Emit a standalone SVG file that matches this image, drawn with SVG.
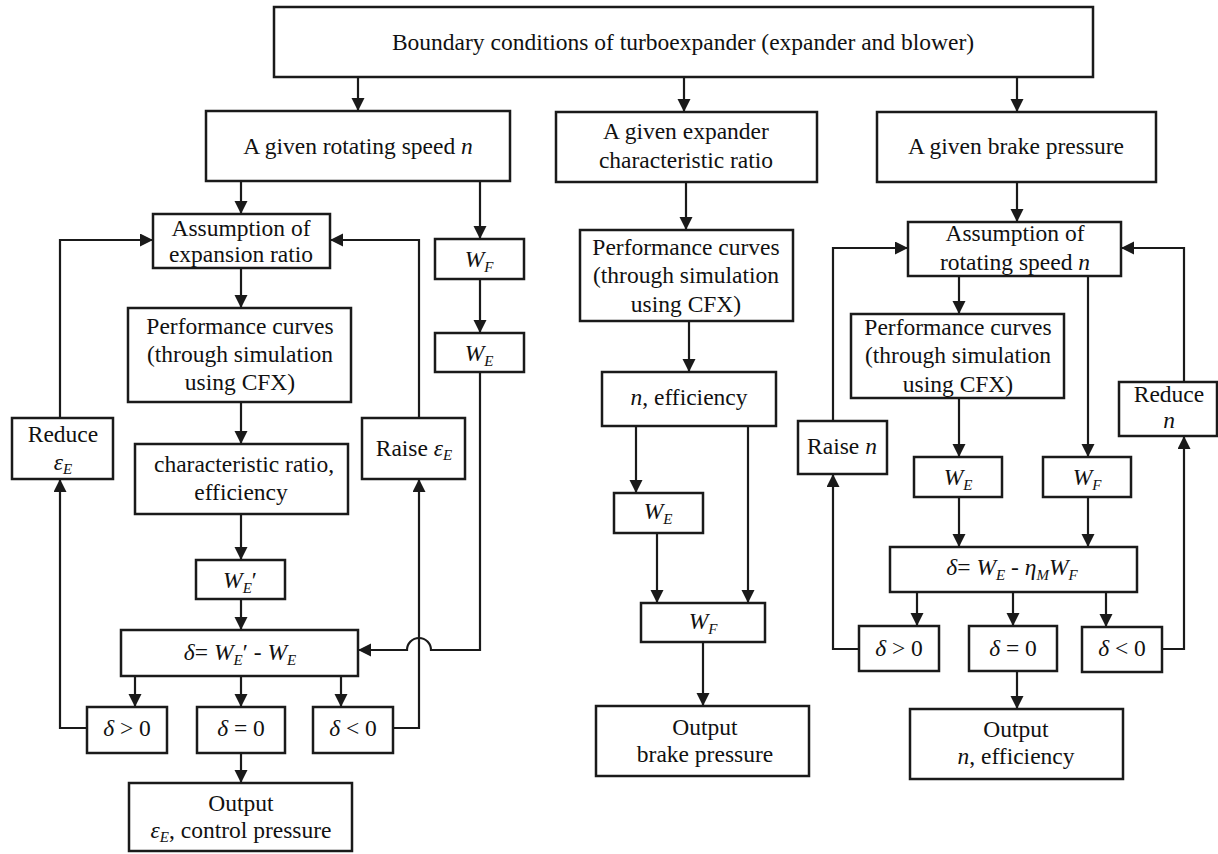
<svg xmlns="http://www.w3.org/2000/svg" width="1218" height="854" viewBox="0 0 1218 854">
<style>
.b{fill:#fff;stroke:#1a1a1a;stroke-width:2.5}
.c{fill:none;stroke:#1a1a1a;stroke-width:2.2}
text{font-family:'Liberation Serif',serif;font-size:23.5px;fill:#111;text-anchor:middle}
.i{font-style:italic}
.s{font-style:italic;font-size:15px}
</style>
<defs>
<marker id="a" markerUnits="userSpaceOnUse" markerWidth="14" markerHeight="14" refX="13" refY="6.5" orient="auto">
<path d="M0,0 L13,6.5 L0,13 z" fill="#1a1a1a"/>
</marker>
</defs>
<rect width="1218" height="854" fill="#fff"/>
<g id="connectors">
<path class="c" marker-end="url(#a)" d="M358,77 V111"/>
<path class="c" marker-end="url(#a)" d="M684,77 V112"/>
<path class="c" marker-end="url(#a)" d="M1017,77 V112"/>
<path class="c" marker-end="url(#a)" d="M241,181 V214"/>
<path class="c" marker-end="url(#a)" d="M480,181 V239"/>
<path class="c" marker-end="url(#a)" d="M480,279 V333"/>
<path class="c" marker-end="url(#a)" d="M480,372 V650 H431 A12,12 0 0 0 407,650 H358"/>
<path class="c" marker-end="url(#a)" d="M241,268 V308"/>
<path class="c" marker-end="url(#a)" d="M241,402 V444"/>
<path class="c" marker-end="url(#a)" d="M241,514 V560"/>
<path class="c" marker-end="url(#a)" d="M241,599 V630"/>
<path class="c" marker-end="url(#a)" d="M135,676 V707"/>
<path class="c" marker-end="url(#a)" d="M241,676 V707"/>
<path class="c" marker-end="url(#a)" d="M341,676 V707"/>
<path class="c" marker-end="url(#a)" d="M241,753 V783"/>
<path class="c" marker-end="url(#a)" d="M87,728 H60 V479"/>
<path class="c" marker-end="url(#a)" d="M60,418 V240 H153"/>
<path class="c" marker-end="url(#a)" d="M393,728 H419 V479"/>
<path class="c" marker-end="url(#a)" d="M419,418 V240 H330"/>
<path class="c" marker-end="url(#a)" d="M686,182 V230"/>
<path class="c" marker-end="url(#a)" d="M689,321 V372"/>
<path class="c" marker-end="url(#a)" d="M636,426 V493"/>
<path class="c" marker-end="url(#a)" d="M748,426 V603"/>
<path class="c" marker-end="url(#a)" d="M657,533 V603"/>
<path class="c" marker-end="url(#a)" d="M703,642 V706"/>
<path class="c" marker-end="url(#a)" d="M1017,182 V222"/>
<path class="c" marker-end="url(#a)" d="M959,276 V314"/>
<path class="c" marker-end="url(#a)" d="M959,398 V457"/>
<path class="c" marker-end="url(#a)" d="M1088,276 V457"/>
<path class="c" marker-end="url(#a)" d="M959,497 V547"/>
<path class="c" marker-end="url(#a)" d="M1088,497 V547"/>
<path class="c" marker-end="url(#a)" d="M917,592 V626"/>
<path class="c" marker-end="url(#a)" d="M1013,592 V626"/>
<path class="c" marker-end="url(#a)" d="M1106,592 V627"/>
<path class="c" marker-end="url(#a)" d="M1017,671 V709"/>
<path class="c" marker-end="url(#a)" d="M859,649 H833 V474"/>
<path class="c" marker-end="url(#a)" d="M833,421 V248 H908"/>
<path class="c" marker-end="url(#a)" d="M1162,649 H1184 V436"/>
<path class="c" marker-end="url(#a)" d="M1184,382 V248 H1121"/>
</g>
<g id="top"><rect class="b" x="274" y="7" width="819" height="70"/><text x="683" y="50">Boundary conditions of turboexpander (expander and blower)</text></g>
<g id="rot"><rect class="b" x="206" y="111" width="304" height="70"/><text x="358" y="154">A given rotating speed <tspan class="i">n</tspan></text></g>
<g id="exp"><rect class="b" x="556" y="112" width="261" height="70"/><text x="686" y="139">A given expander</text><text x="686" y="168">characteristic ratio</text></g>
<g id="brake"><rect class="b" x="877" y="112" width="279" height="70"/><text x="1016" y="154">A given brake pressure</text></g>
<g id="l_assump"><rect class="b" x="153" y="214" width="177" height="54"/><text x="241" y="236">Assumption of</text><text x="241" y="262">expansion ratio</text></g>
<g id="l_perf"><rect class="b" x="128" y="308" width="223" height="94"/><text x="240" y="334">Performance curves</text><text x="240" y="362">(through simulation</text><text x="240" y="390">using CFX)</text></g>
<g id="l_char"><rect class="b" x="135" y="444" width="213" height="70"/><text x="244" y="472">characteristic ratio,</text><text x="241" y="500">efficiency</text></g>
<g id="l_we1"><rect class="b" x="196" y="560" width="89" height="39"/><text x="240" y="588"><tspan class="i">W</tspan><tspan class="s" dy="5">E</tspan><tspan dy="-5">′</tspan></text></g>
<g id="l_delta"><rect class="b" x="121" y="630" width="237" height="46"/><text x="240" y="660"><tspan class="i">δ</tspan>= <tspan class="i">W</tspan><tspan class="s" dy="5">E</tspan><tspan dy="-5">′ - </tspan><tspan class="i">W</tspan><tspan class="s" dy="5">E</tspan></text></g>
<g id="l_gt"><rect class="b" x="87" y="707" width="80" height="46"/><text x="127" y="736"><tspan class="i">δ</tspan> &gt; 0</text></g>
<g id="l_eq"><rect class="b" x="197" y="707" width="88" height="46"/><text x="241" y="736"><tspan class="i">δ</tspan> = 0</text></g>
<g id="l_lt"><rect class="b" x="313" y="707" width="80" height="46"/><text x="353" y="736"><tspan class="i">δ</tspan> &lt; 0</text></g>
<g id="l_out"><rect class="b" x="129" y="783" width="223" height="68"/><text x="241" y="811">Output</text><text x="241" y="838"><tspan class="i">ε</tspan><tspan class="s" dy="4">E</tspan><tspan dy="-4">, control pressure</tspan></text></g>
<g id="l_reduce"><rect class="b" x="12" y="418" width="101" height="61"/><text x="63" y="442">Reduce</text><text x="63" y="470"><tspan class="i">ε</tspan><tspan class="s" dy="4">E</tspan></text></g>
<g id="l_raise"><rect class="b" x="362" y="418" width="103" height="61"/><text x="414" y="456">Raise <tspan class="i">ε</tspan><tspan class="s" dy="4">E</tspan></text></g>
<g id="l_wf"><rect class="b" x="435" y="239" width="89" height="40"/><text x="479" y="267"><tspan class="i">W</tspan><tspan class="s" dy="5">F</tspan></text></g>
<g id="l_we"><rect class="b" x="435" y="333" width="89" height="39"/><text x="479" y="361"><tspan class="i">W</tspan><tspan class="s" dy="5">E</tspan></text></g>
<g id="m_perf"><rect class="b" x="580" y="230" width="213" height="91"/><text x="686" y="255">Performance curves</text><text x="686" y="283">(through simulation</text><text x="686" y="312">using CFX)</text></g>
<g id="m_neff"><rect class="b" x="602" y="372" width="174" height="54"/><text x="689" y="405"><tspan class="i">n</tspan>, efficiency</text></g>
<g id="m_we"><rect class="b" x="614" y="493" width="89" height="40"/><text x="658" y="519"><tspan class="i">W</tspan><tspan class="s" dy="5">E</tspan></text></g>
<g id="m_wf"><rect class="b" x="641" y="603" width="124" height="39"/><text x="703" y="629"><tspan class="i">W</tspan><tspan class="s" dy="5">F</tspan></text></g>
<g id="m_out"><rect class="b" x="596" y="706" width="213" height="70"/><text x="705" y="735">Output</text><text x="705" y="762">brake pressure</text></g>
<g id="r_assump"><rect class="b" x="908" y="222" width="213" height="54"/><text x="1015" y="241">Assumption of</text><text x="1015" y="270">rotating speed <tspan class="i">n</tspan></text></g>
<g id="r_perf"><rect class="b" x="851" y="314" width="213" height="84"/><text x="958" y="335">Performance curves</text><text x="958" y="363">(through simulation</text><text x="958" y="392">using CFX)</text></g>
<g id="r_we"><rect class="b" x="914" y="457" width="88" height="40"/><text x="958" y="485"><tspan class="i">W</tspan><tspan class="s" dy="5">E</tspan></text></g>
<g id="r_wf"><rect class="b" x="1043" y="457" width="88" height="40"/><text x="1087" y="485"><tspan class="i">W</tspan><tspan class="s" dy="5">F</tspan></text></g>
<g id="r_delta"><rect class="b" x="890" y="547" width="247" height="45"/><text x="1012" y="575"><tspan class="i">δ</tspan>= <tspan class="i">W</tspan><tspan class="s" dy="5">E</tspan><tspan dy="-5"> - </tspan><tspan class="i">η</tspan><tspan class="s" dy="5">M</tspan><tspan class="i" dy="-5">W</tspan><tspan class="s" dy="5">F</tspan></text></g>
<g id="r_gt"><rect class="b" x="859" y="626" width="80" height="45"/><text x="899" y="656"><tspan class="i">δ</tspan> &gt; 0</text></g>
<g id="r_eq"><rect class="b" x="969" y="626" width="88" height="45"/><text x="1013" y="656"><tspan class="i">δ</tspan> = 0</text></g>
<g id="r_lt"><rect class="b" x="1082" y="627" width="80" height="45"/><text x="1122" y="656"><tspan class="i">δ</tspan> &lt; 0</text></g>
<g id="r_out"><rect class="b" x="910" y="709" width="213" height="70"/><text x="1016" y="737">Output</text><text x="1016" y="764"><tspan class="i">n</tspan>, efficiency</text></g>
<g id="r_raise"><rect class="b" x="798" y="421" width="89" height="53"/><text x="842" y="454">Raise <tspan class="i">n</tspan></text></g>
<g id="r_reduce"><rect class="b" x="1119" y="382" width="98" height="54"/><text x="1169" y="402">Reduce</text><text x="1169" y="428" class="i">n</text></g>
</svg>
